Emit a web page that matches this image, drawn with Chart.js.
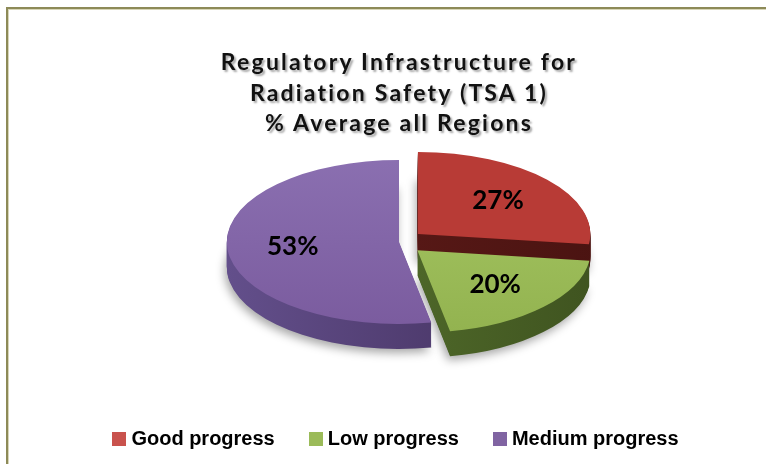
<!DOCTYPE html>
<html>
<head>
<meta charset="utf-8">
<script src="https://cdn.jsdelivr.net/npm/chart.js@4.4.1/dist/chart.umd.min.js"></script>
<style>
html,body{margin:0;padding:0;background:#fff;}
#wrap{position:relative;width:766px;height:464px;overflow:hidden;font-family:"Liberation Sans",Arial,sans-serif;background:#fff;}
#frame{position:absolute;left:6px;top:7px;width:820px;height:520px;border-top:2px solid #8d8a58;border-left:2px solid #8d8a58;box-shadow:inset 1px 1px 0 #d8d6b8;}
#chart{position:absolute;left:0;top:0;}
#title{position:absolute;left:1px;top:46px;width:796px;text-align:center;font-family:Lato,"Liberation Sans",sans-serif;font-weight:bold;font-size:23px;line-height:30.5px;letter-spacing:2.2px;color:#111;text-shadow:2px 2px 2px rgba(0,0,0,0.35);}
#legend{position:absolute;left:0;top:427px;width:791px;display:flex;justify-content:center;align-items:center;font-weight:bold;font-size:20px;color:#000;}
.item{display:flex;align-items:center;margin:0 17px;}
.box{width:14px;height:14px;margin-right:5px;}
</style>
</head>
<body>
<div id="wrap">
  <div id="frame"></div>
  <canvas id="chart" width="766" height="464"></canvas>
  <div id="title"></div>
  <div id="legend"></div>
</div>
<script>
// ---- data ----
const titleLines = ['Regulatory Infrastructure for', 'Radiation Safety (TSA 1)', '% Average all Regions'];
const categories = ['Good progress', 'Low progress', 'Medium progress'];
const percentValues = [27, 20, 53];

// ---- styles ----
const topLight = ['#c9524d', '#a6c763', '#8b70b1'];
const topDark  = ['#b83b36', '#92b24f', '#7a5b9e'];
const sideLight = ['#621d1a', '#5c7a31', '#65518e'];
const sideDark  = ['#4a1311', '#3e521f', '#3f2c58'];
const legendColors = ['#c9524d', '#9bbb59', '#8064a2'];
const sliceExplode = [48, 48, 0];
const X_STRETCH = 2.1;
const DEPTH = 25;
const RADIUS = 82;

document.getElementById('title').innerHTML = titleLines.join('<br>');
const leg = document.getElementById('legend');
categories.forEach((c, i) => {
  const it = document.createElement('div'); it.className = 'item';
  const b = document.createElement('div'); b.className = 'box'; b.style.background = legendColors[i];
  const t = document.createElement('span'); t.textContent = c;
  it.appendChild(b); it.appendChild(t); leg.appendChild(it);
});

function vGrad(chart, i) {
  const meta = chart.getDatasetMeta(0);
  const a = meta.data[0];
  if (!a || !a.y) return topDark[i];
  const g = chart.ctx.createLinearGradient(0, a.y - RADIUS - 8, 0, a.y + RADIUS + 8);
  g.addColorStop(0, topLight[i]);
  g.addColorStop(1, topDark[i]);
  return g;
}

const pie3d = {
  id: 'pie3d',
  beforeDatasetsDraw(chart) {
    const ctx = chart.ctx;
    const meta = chart.getDatasetMeta(0);
    const cx = meta.data[0].x;
    ctx.save();
    ctx.translate(cx, 0); ctx.scale(X_STRETCH, 1); ctx.translate(-cx, 0);
    const sides = meta.data.map((arc, i) => {
      const g = ctx.createLinearGradient(cx - RADIUS - 10, 0, cx + RADIUS + 10, 0);
      g.addColorStop(0, sideLight[i]);
      g.addColorStop(1, sideDark[i]);
      return g;
    });
    for (let d = DEPTH; d >= 1; d--) {
      meta.data.forEach((arc, i) => {
        const orig = arc.options;
        arc.options = Object.assign({}, orig, {backgroundColor: sides[i], borderWidth: 0});
        ctx.save();
        ctx.translate(0, d);
        if (d === DEPTH) {
          ctx.shadowColor = 'rgba(0,0,0,0.35)';
          ctx.shadowBlur = 10; ctx.shadowOffsetX = -2; ctx.shadowOffsetY = 4;
        }
        arc.draw(ctx);
        ctx.restore();
        arc.options = orig;
      });
    }
  },
  afterDatasetsDraw(chart) {
    const ctx = chart.ctx;
    ctx.restore();
    const meta = chart.getDatasetMeta(0);
    ctx.save();
    ctx.font = 'bold 26px Lato, "Liberation Sans", Arial, sans-serif';
    ctx.fillStyle = '#000';
    ctx.textAlign = 'center';
    ctx.textBaseline = 'middle';
    meta.data.forEach((arc, i) => {
      const mid = (arc.startAngle + arc.endAngle) / 2;
      const off = (arc.options.offset || 0) / 4;
      const r = off + arc.outerRadius * 0.62;
      const px = arc.x + Math.cos(mid) * r;
      const py = arc.y + Math.sin(mid) * r;
      const sx = arc.x + X_STRETCH * (px - arc.x);
      ctx.fillText(percentValues[i] + '%', sx, py);
    });
    ctx.restore();
  }
};

new Chart(document.getElementById('chart'), {
  type: 'pie',
  data: {
    labels: categories,
    datasets: [{
      data: percentValues,
      backgroundColor: (c) => vGrad(c.chart, c.dataIndex),
      borderWidth: 0,
      offset: sliceExplode,
      clip: false
    }]
  },
  options: {
    responsive: false,
    animation: false,
    devicePixelRatio: 1,
    radius: RADIUS,
    layout: {padding: {left: 32, right: 0, top: 20, bottom: 0}},
    plugins: {legend: {display: false}, title: {display: false}, tooltip: {enabled: false}},
    events: []
  },
  plugins: [pie3d]
});
</script>
</body>
</html>
